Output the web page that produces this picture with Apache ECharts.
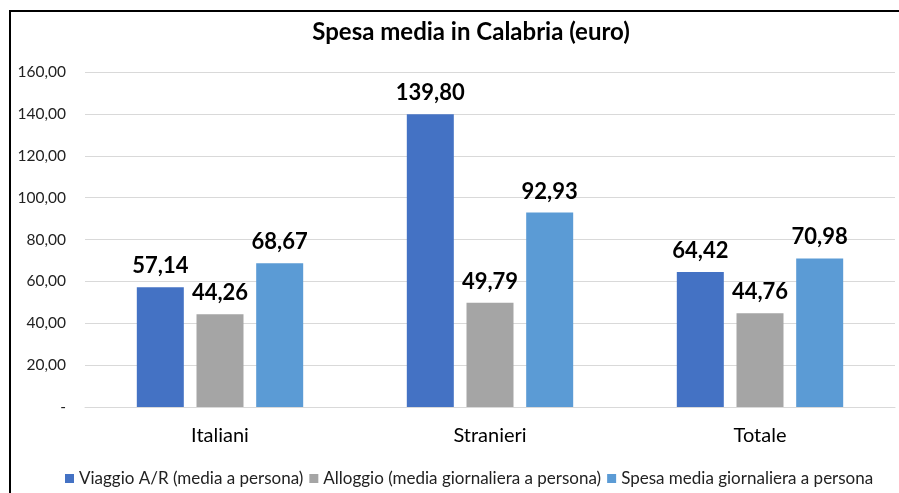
<!DOCTYPE html>
<html><head><meta charset="utf-8">
<script src="https://cdn.jsdelivr.net/npm/echarts@6/dist/echarts.min.js"></script>
<style>html,body{margin:0;padding:0;background:#fff}#c{width:899px;height:493px}</style>
</head><body><div id="c"></div>
<script>
const categories = ['Italiani', 'Stranieri', 'Totale'];
const seriesNames = ['Viaggio A/R (media a persona)', 'Alloggio (media giornaliera a persona)', 'Spesa media giornaliera a persona'];
const viaggio = [57.14, 139.80, 64.42];
const alloggio = [44.26, 49.79, 44.76];
const spesa = [68.67, 92.93, 70.98];
const colors = ['#4472C4', '#A5A5A5', '#5B9BD5'];
const FONT = 'Lato';
const fmt = v => v === 0 ? '-' : v.toFixed(2).replace('.', ',');
const values = [viaggio, alloggio, spesa];
const chart = echarts.init(document.getElementById('c'));
chart.setOption({
  animation: false,
  textStyle: { fontFamily: FONT },
  graphic: [
    { type: 'rect', shape: { x: 10, y: 11, width: 1000, height: 600 }, style: { fill: 'none', stroke: '#000', lineWidth: 2 }, silent: true },
    { type: 'text', x: 471, y: 32, style: { text: 'Spesa media in Calabria (euro)', fontFamily: FONT, fontWeight: 'bold', fontSize: 24, fill: '#000', textAlign: 'center', textVerticalAlign: 'middle' } }
  ],
  legend: {
    top: 465, left: 60, itemWidth: 9, itemHeight: 9, itemGap: 6, icon: 'rect',
    textStyle: { fontFamily: FONT, fontSize: 17, color: '#222' }
  },
  grid: { left: 85, right: 4, top: 72, bottom: 86 },
  xAxis: {
    type: 'category', data: categories,
    axisLine: { lineStyle: { color: '#d9d9d9', width: 1 } },
    axisTick: { show: false },
    axisLabel: { fontFamily: FONT, fontSize: 20, color: '#000', margin: 19 }
  },
  yAxis: {
    type: 'value', min: 0, max: 160, interval: 20,
    axisLine: { show: false }, axisTick: { show: false },
    splitLine: { lineStyle: { color: '#d9d9d9' } },
    axisLabel: { fontFamily: FONT, fontSize: 15.5, color: '#222', margin: 19, formatter: fmt }
  },
  series: seriesNames.map((n, i) => ({
    name: n, type: 'bar', data: values[i], barWidth: 47, barGap: '27%',
    itemStyle: { color: colors[i] },
    label: { show: true, position: 'top', distance: 10, fontFamily: FONT, fontWeight: 'bold', fontSize: 22, color: '#000', formatter: p => fmt(p.value) }
  }))
});
</script></body></html>
